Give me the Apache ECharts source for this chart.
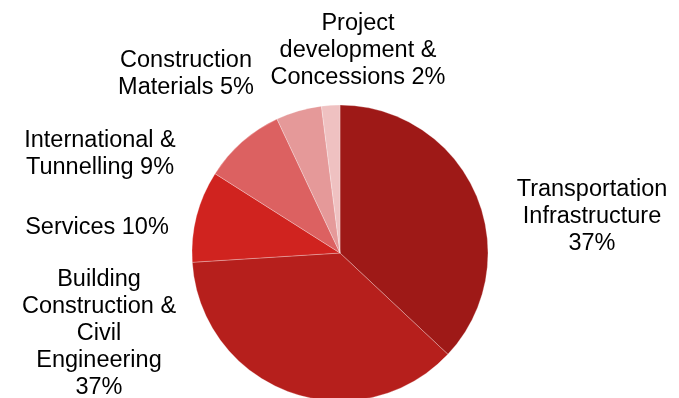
<!DOCTYPE html>
<html>
<head>
<meta charset="utf-8">
<script src="https://cdn.jsdelivr.net/npm/echarts@6/dist/echarts.min.js"></script>
<style>
  html, body { margin: 0; padding: 0; background: #fff; }
  #chart { width: 679px; height: 398px; }
</style>
</head>
<body>
<div id="chart"></div>
<script>
// Revenue split by business segment (%)
const segments = [
  'Transportation\nInfrastructure',
  'Building\nConstruction &\nCivil\nEngineering',
  'Services',
  'International &\nTunnelling',
  'Construction\nMaterials',
  'Project\ndevelopment &\nConcessions'
];
const shares = [37, 37, 10, 9, 5, 2];
// whether the percentage goes on its own line or follows the name
const valueOnNewLine = [true, true, false, false, false, false];

const sliceColors = ['#9e1917', '#b61f1c', '#d0231f', '#dc6161', '#e59999', '#efc1c1'];

// label block centres, in pixels
const labelSpots = [
  [592, 217],
  [99, 334],
  [97, 228],
  [100, 154],
  [186, 74],
  [358, 51]
];

const chart = echarts.init(document.getElementById('chart'), null, { renderer: 'canvas' });

chart.setOption({
  animation: false,
  backgroundColor: '#ffffff',
  series: [{
    type: 'pie',
    center: [340, 253],
    radius: 148,
    startAngle: 90,
    clockwise: true,
    avoidLabelOverlap: false,
    data: segments.map((name, i) => ({
      name: name,
      value: shares[i],
      itemStyle: { color: sliceColors[i] }
    })),
    itemStyle: { borderColor: 'rgba(255,255,255,0.45)', borderWidth: 0.6 },
    label: {
      show: true,
      position: 'outside',
      color: '#000',
      fontFamily: 'Liberation Sans, Arial, sans-serif',
      fontSize: 23.5,
      lineHeight: 27,
      align: 'center',
      formatter: (p) => p.name + (valueOnNewLine[p.dataIndex] ? '\n' : ' ') + p.value + '%'
    },
    labelLine: { show: false },
    labelLayout: (params) => ({
      x: labelSpots[params.dataIndex][0],
      y: labelSpots[params.dataIndex][1],
      align: 'center',
      verticalAlign: 'middle',
      hideOverlap: false
    }),
    emphasis: { disabled: true }
  }]
});
</script>
</body>
</html>
